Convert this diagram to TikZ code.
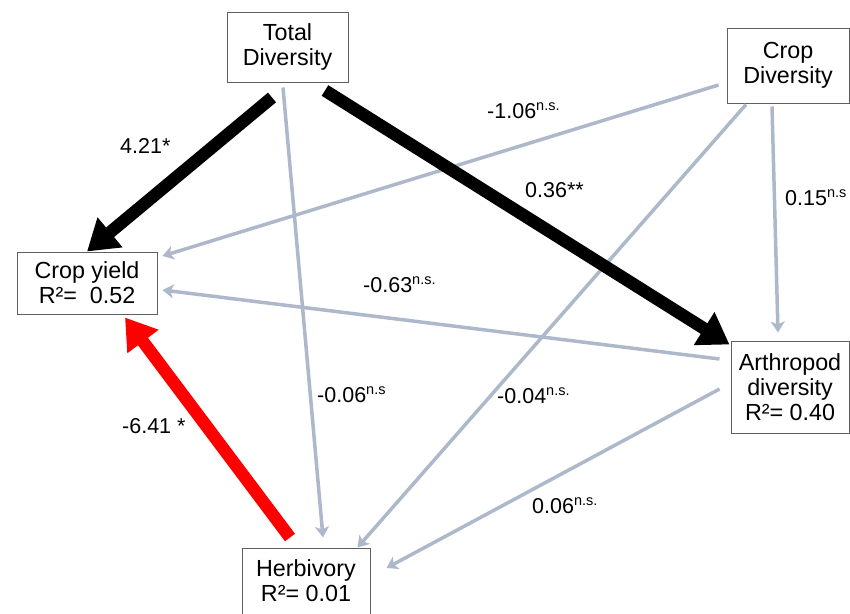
\documentclass[tikz,border=0pt]{standalone}
\usepackage{fontspec}
\setmainfont{Liberation Sans}
\usetikzlibrary{arrows.meta,calc}
\definecolor{pathgray}{HTML}{ADB9CA}
\definecolor{boxline}{HTML}{606060}
\definecolor{sigred}{HTML}{FF0000}
\newcommand{\ns}[1]{\raisebox{7.5pt}{\fontsize{14.5}{14.5}\selectfont #1}}
\tikzset{
  varbox/.style={draw=boxline, line width=1pt, fill=white, align=center, inner sep=0pt,
    font=\fontsize{23.3}{25}\selectfont},
  weak/.style={draw=pathgray, line width=3.5pt, -{Stealth[length=11pt,width=14pt,inset=3pt]}},
  strong/.style={draw=black, line width=12.5pt, -{Triangle[length=30pt,width=37pt]}},
  strongneg/.style={draw=sigred, line width=12.5pt, -{Triangle[length=30pt,width=37pt]}},
  coef/.style={anchor=base west, inner sep=0pt, font=\fontsize{21.5}{25}\selectfont}
}
\begin{document}
\begin{tikzpicture}[x=1pt,y=-1pt]
\useasboundingbox (0,0) rectangle (850,613);
% boxes
\node[varbox, minimum width=121pt, minimum height=70pt] (td) at (287.5,47) {Total\\Diversity};
\node[varbox, minimum width=122pt, minimum height=75pt] (cd) at (788,65.5) {Crop\\Diversity};
\node[varbox, minimum width=140pt, minimum height=62pt] (cy) at (87,283) {Crop yield\\R²= \ 0.52};
\node[varbox, minimum width=118pt, minimum height=92pt] (ap) at (790,387) {Arthropod\\diversity\\R²= 0.40};
\node[varbox, minimum width=128pt, minimum height=66pt] (hb) at (306,581) {Herbivory\\R²= 0.01};
% weak paths
\draw[weak] ($(td.south)+(-4.5,5)$) -- ($(hb.north)+(17,-10)$);
\draw[weak] ($(cd.west)+(-8,19.5)$) -- ($(cy.east)+(5,-27)$);
\draw[weak] ($(cd.south)+(-42,1)$) -- ($(hb.north east)+(-13,0)$);
\draw[weak] ($(cd.south)+(-16,3)$) -- ($(ap.north)+(-12,-8)$);
\draw[weak] ($(ap.west)+(-11,-28)$) -- ($(cy.east)+(5,7)$);
\draw[weak] ($(ap.west)+(-11,2)$) -- ($(hb.east)+(16,-13)$);
% strong paths
\draw[strong] ($(td.south)+(-15.5,15)$) -- (cy.north);
\draw[strong] ($(td.south)+(37.5,8)$) -- ($(ap.north west)+(-1,4)$);
\draw[strongneg] ($(hb.north)+(-16,-10)$) -- ($(cy.south)+(38,3)$);
% coefficients
\node[coef] (l1) at (120,153) {4.21*};
\node[coef] (l2) at (487,118) {-1.06\ns{n.s.}};
\node[coef] (l3) at (525,197) {0.36**};
\node[coef] (l4) at (785,205) {0.15\ns{n.s}};
\node[coef] (l5) at (363,292) {-0.63\ns{n.s.}};
\node[coef] (l6) at (317,402) {-0.06\ns{n.s}};
\node[coef] (l7) at (122,433) {-6.41 *};
\node[coef] (l8) at (497,403) {-0.04\ns{n.s.}};
\node[coef] (l9) at (532,513) {0.06\ns{n.s.}};
\end{tikzpicture}
\end{document}
